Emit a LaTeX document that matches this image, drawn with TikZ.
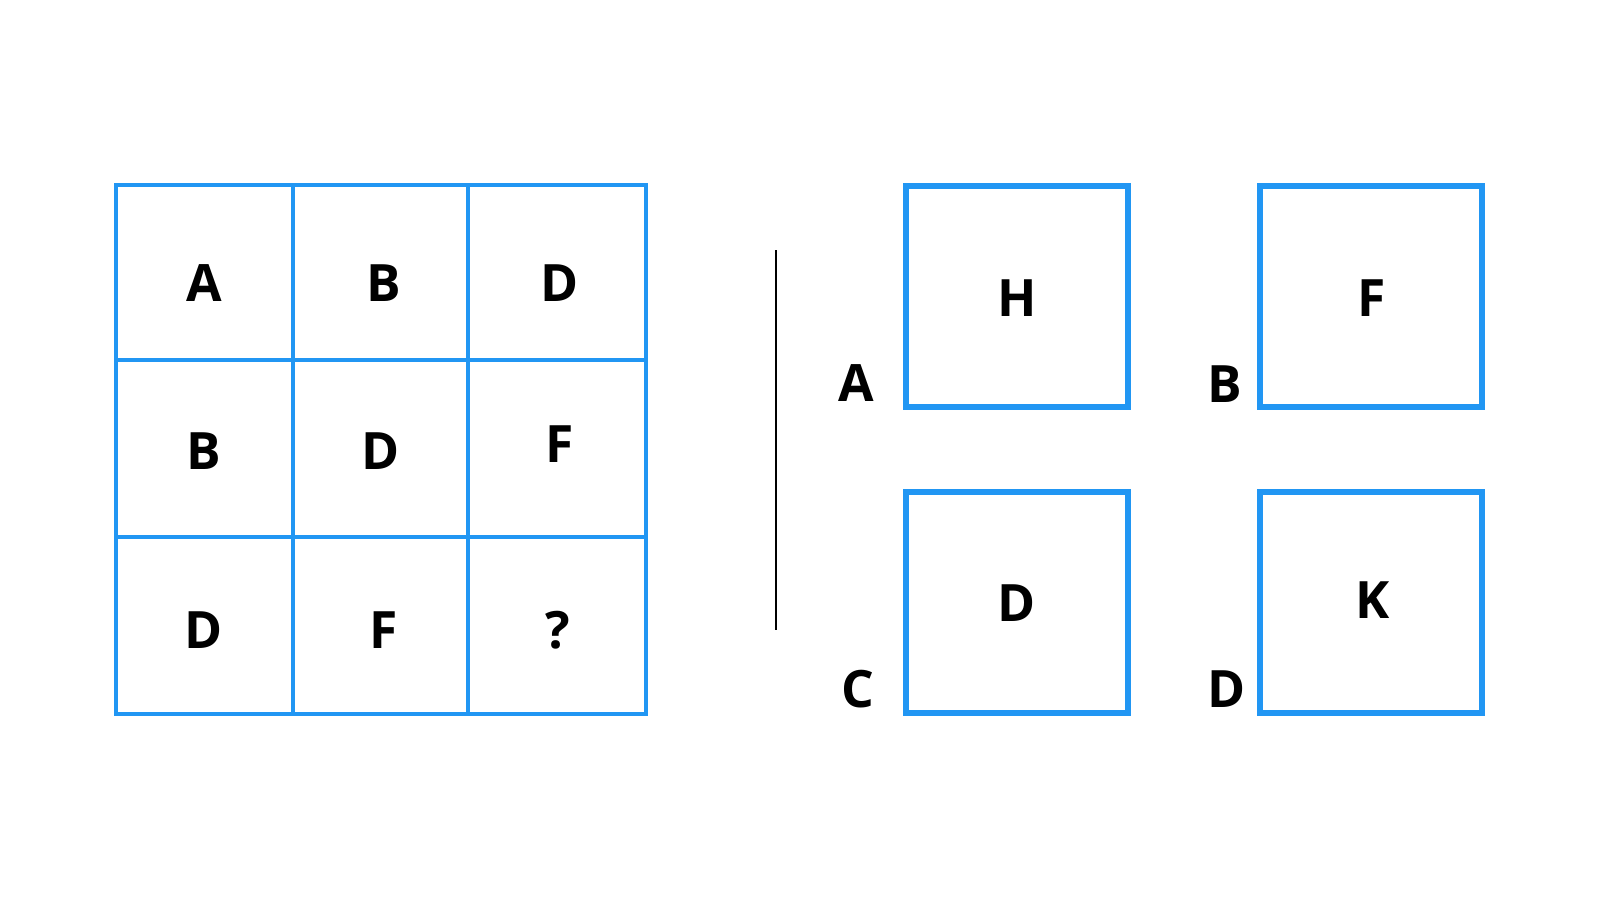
\documentclass[tikz,border=0pt]{standalone}
\usepackage{fontspec}
\setmainfont{Open Sans}
\definecolor{gridblue}{HTML}{2196F3}
\tikzset{
  cellline/.style={draw=gridblue, line width=4pt},
  optbox/.style={draw=gridblue, line width=6.5pt, miter limit=10},
  lbl/.style={inner sep=0pt, font=\fontsize{51.5}{60}\selectfont\bfseries},
}
\begin{document}
\begin{tikzpicture}[x=1pt,y=-1pt]
\useasboundingbox (0,0) rectangle (1600,900);
% grid
\draw[cellline] (116,185) rectangle (646,714);
\draw[cellline] (293,185) -- (293,714);
\draw[cellline] (468,185) -- (468,714);
\draw[cellline] (116,360) -- (646,360);
\draw[cellline] (116,537) -- (646,537);
\node[lbl] (g11) at (204,283) {A};
\node[lbl] (g12) at (384,283) {B};
\node[lbl] (g13) at (560,283) {D};
\node[lbl] (g21) at (204,451) {B};
\node[lbl] (g22) at (381,451) {D};
\node[lbl] (g23) at (560,444) {F};
\node[lbl] (g31) at (204,630) {D};
\node[lbl] (g32) at (384,630) {F};
\node[lbl] (g33) at (558,630) {?};
% separator
\coordinate (s1) at (776,250);
\coordinate (s2) at (776,630);
\draw[line width=2.6pt] (s1) -- (s2);
% option boxes
\draw[optbox] (906,186) rectangle (1128,407);
\draw[optbox] (1260,186) rectangle (1482,407);
\draw[optbox] (906,492) rectangle (1128,713);
\draw[optbox] (1260,492) rectangle (1482,713);
\node[lbl] (oa) at (1017,298) {H};
\node[lbl] (ob) at (1372,298) {F};
\node[lbl] (oc) at (1017,603) {D};
\node[lbl] (od) at (1373,600) {K};
\node[lbl] (la) at (856,383) {A};
\node[lbl] (lb) at (1225,384) {B};
\node[lbl] (lc) at (858,689) {C};
\node[lbl] (ld) at (1227,689) {D};
\end{tikzpicture}
\end{document}
